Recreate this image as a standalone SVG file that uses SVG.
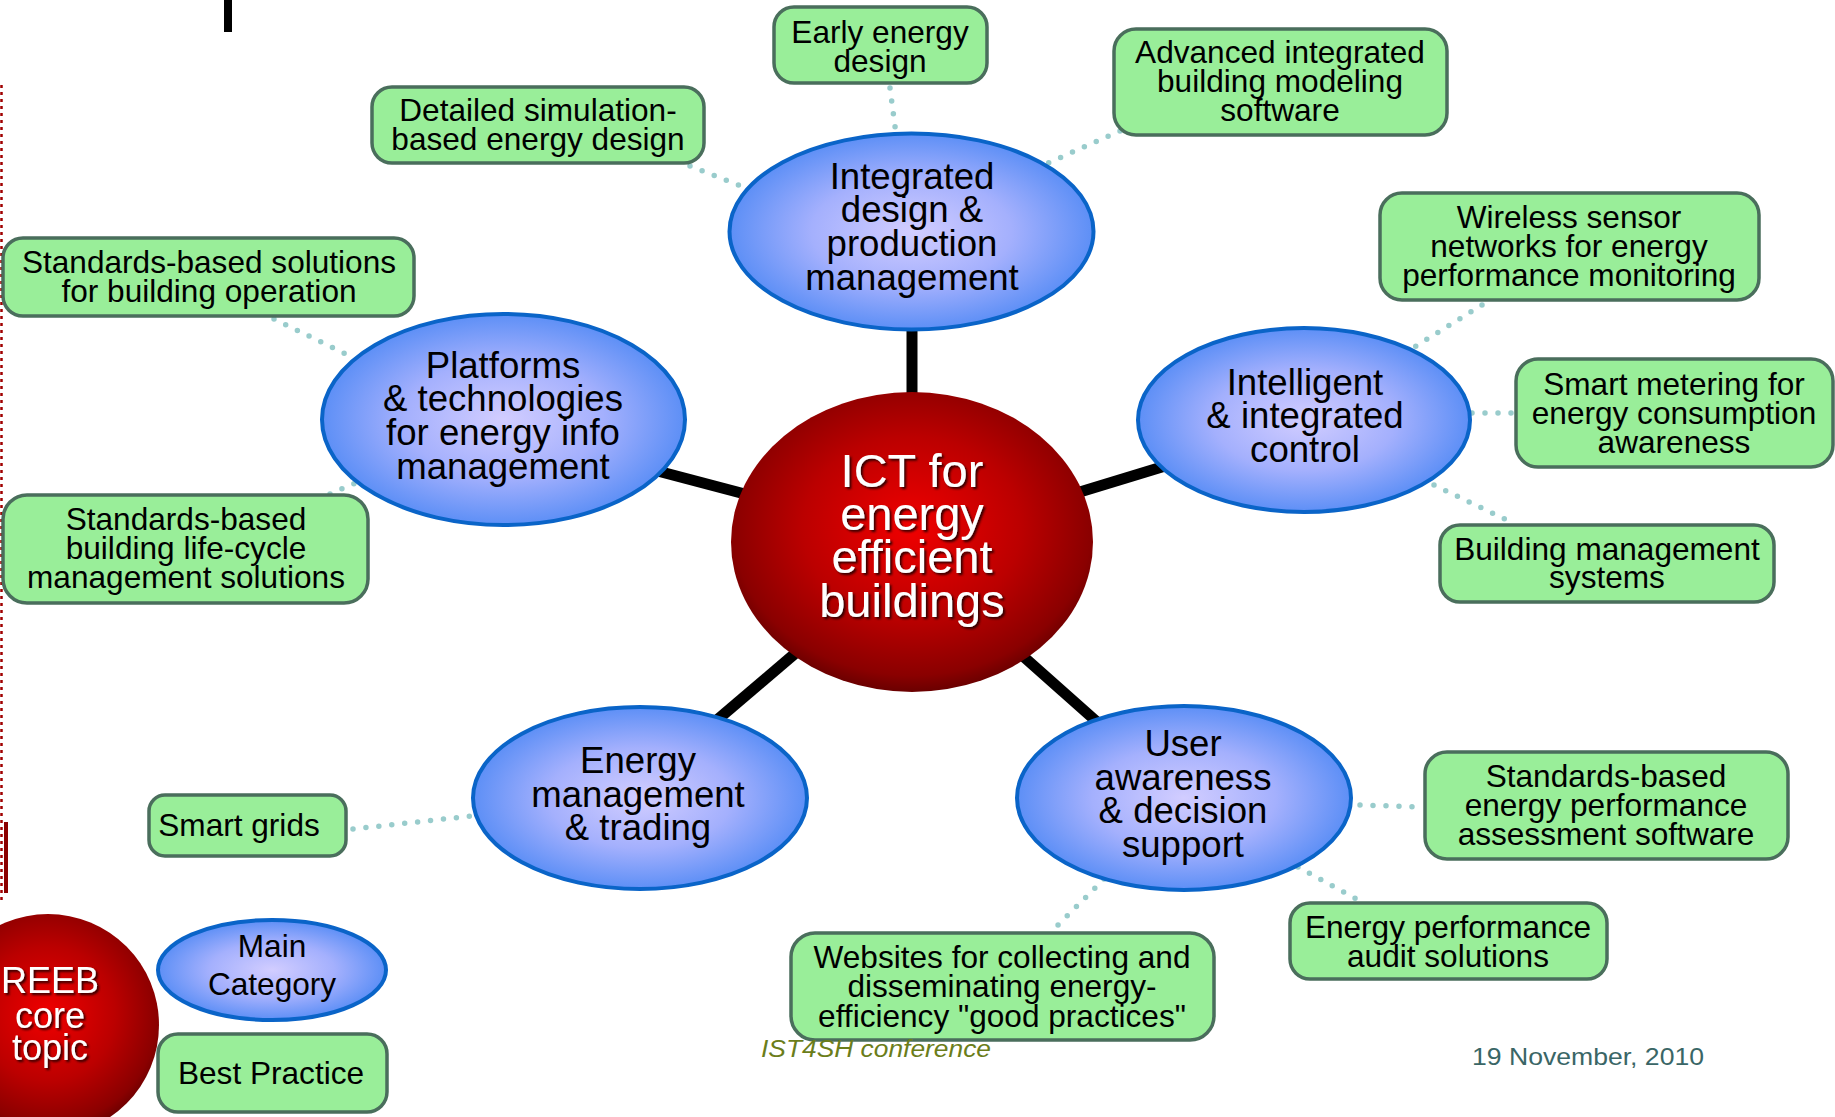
<svg xmlns="http://www.w3.org/2000/svg" width="1835" height="1117" viewBox="0 0 1835 1117">
<defs>
<radialGradient id="blueGrad" cx="50%" cy="50%" r="50%">
<stop offset="0" stop-color="#d2cdff"/>
<stop offset="0.55" stop-color="#a4b0fd"/>
<stop offset="1" stop-color="#5d8ff6"/>
</radialGradient>
<radialGradient id="redGrad" cx="50%" cy="45%" r="55%">
<stop offset="0" stop-color="#f00000"/>
<stop offset="0.55" stop-color="#bb0000"/>
<stop offset="0.9" stop-color="#8a0000"/>
<stop offset="1" stop-color="#6a0000"/>
</radialGradient>
<filter id="shadow" x="-20%" y="-20%" width="140%" height="140%">
<feDropShadow dx="2" dy="2" stdDeviation="1" flood-color="#200000" flood-opacity="0.9"/>
</filter>
</defs>
<style>
text{font-family:"Liberation Sans",Arial,Helvetica,sans-serif;text-anchor:middle;fill:#000}
.gb{fill:#99ee99;stroke:#4a6e5c;stroke-width:3.5}
.gt{font-size:31.6px}
.be{fill:url(#blueGrad);stroke:#0a64c8;stroke-width:4}
.bt{font-size:36.6px}
.ct{font-size:47px;fill:#fff;filter:url(#shadow)}
.rt{font-size:36px;fill:#fff;filter:url(#shadow)}
.dot{fill:none;stroke:#99cccc;stroke-width:5.5;stroke-linecap:round;stroke-dasharray:0 13}
.spoke{stroke:#000;stroke-width:11}
</style>
<rect width="1835" height="1117" fill="#fff"/>

<!-- decorations -->
<rect x="224" y="0" width="8" height="32" fill="#000"/>
<line x1="1.5" y1="85" x2="1.5" y2="900" stroke="#a00000" stroke-width="2.5" stroke-dasharray="3 4"/>
<rect x="4" y="822" width="4" height="71" fill="#8b0000"/>

<g id="connectors">
<line class="spoke" x1="912" y1="320" x2="912" y2="400"/>
<line class="spoke" x1="650" y1="469" x2="760" y2="498"/>
<line class="spoke" x1="1070" y1="495" x2="1175" y2="463"/>
<line class="spoke" x1="710" y1="726" x2="805" y2="645"/>
<line class="spoke" x1="1015" y1="649" x2="1105" y2="729"/>
<line class="dot" x1="890" y1="88" x2="896" y2="134"/>
<line class="dot" x1="1120" y1="131" x2="1048" y2="163"/>
<line class="dot" x1="690" y1="166" x2="746" y2="188"/>
<line class="dot" x1="274" y1="319" x2="354" y2="358"/>
<line class="dot" x1="330" y1="494" x2="360" y2="481"/>
<line class="dot" x1="1482" y1="305" x2="1408" y2="351"/>
<line class="dot" x1="1472" y1="413" x2="1512" y2="413"/>
<line class="dot" x1="1434" y1="485" x2="1515" y2="524"/>
<line class="dot" x1="353" y1="829" x2="472" y2="816"/>
<line class="dot" x1="1360" y1="805" x2="1422" y2="807"/>
<line class="dot" x1="1298" y1="867" x2="1362" y2="902"/>
<line class="dot" x1="1104" y1="879" x2="1052" y2="931"/>
</g>

<g id="center">
<ellipse cx="912" cy="542" rx="181" ry="150" fill="url(#redGrad)"/>
<text class="ct" x="912" y="487">ICT for</text>
<text class="ct" x="912" y="530">energy</text>
<text class="ct" x="912" y="573">efficient</text>
<text class="ct" x="912" y="617">buildings</text>
</g>

<g id="cat-integrated">
<ellipse class="be" cx="911.5" cy="231.5" rx="182" ry="98"/>
<text class="bt" x="912" y="189">Integrated</text>
<text class="bt" x="912" y="222">design &amp;</text>
<text class="bt" x="912" y="256">production</text>
<text class="bt" x="912" y="290">management</text>
</g>
<g id="cat-platforms">
<ellipse class="be" cx="503.5" cy="419.5" rx="181.5" ry="105.5"/>
<text class="bt" x="503" y="378">Platforms</text>
<text class="bt" x="503" y="411">&amp; technologies</text>
<text class="bt" x="503" y="445">for energy info</text>
<text class="bt" x="503" y="479">management</text>
</g>
<g id="cat-intelligent">
<ellipse class="be" cx="1304" cy="420" rx="166" ry="92"/>
<text class="bt" x="1305" y="395">Intelligent</text>
<text class="bt" x="1305" y="428">&amp; integrated</text>
<text class="bt" x="1305" y="462">control</text>
</g>
<g id="cat-energy">
<ellipse class="be" cx="640" cy="798" rx="167" ry="91"/>
<text class="bt" x="638" y="773">Energy</text>
<text class="bt" x="638" y="807">management</text>
<text class="bt" x="638" y="840">&amp; trading</text>
</g>
<g id="cat-user">
<ellipse class="be" cx="1184" cy="798" rx="167" ry="92"/>
<text class="bt" x="1183" y="756">User</text>
<text class="bt" x="1183" y="790">awareness</text>
<text class="bt" x="1183" y="823">&amp; decision</text>
<text class="bt" x="1183" y="857">support</text>
</g>

<g id="bp-early">
<rect class="gb" x="774" y="7" width="213" height="76" rx="20"/>
<text class="gt" x="880" y="43">Early energy</text>
<text class="gt" x="880" y="72">design</text>
</g>
<g id="bp-advanced">
<rect class="gb" x="1114" y="29" width="333" height="106" rx="22"/>
<text class="gt" x="1280" y="63">Advanced integrated</text>
<text class="gt" x="1280" y="92">building modeling</text>
<text class="gt" x="1280" y="121">software</text>
</g>
<g id="bp-detailed">
<rect class="gb" x="372" y="87" width="332" height="76" rx="20"/>
<text class="gt" x="538" y="121">Detailed simulation-</text>
<text class="gt" x="538" y="150">based energy design</text>
</g>
<g id="bp-operation">
<rect class="gb" x="3" y="238" width="411" height="78" rx="20"/>
<text class="gt" x="209" y="273">Standards-based solutions</text>
<text class="gt" x="209" y="302">for building operation</text>
</g>
<g id="bp-lifecycle">
<rect class="gb" x="3" y="495" width="365" height="108" rx="24"/>
<text class="gt" x="186" y="530">Standards-based</text>
<text class="gt" x="186" y="559">building life-cycle</text>
<text class="gt" x="186" y="588">management solutions</text>
</g>
<g id="bp-wireless">
<rect class="gb" x="1380" y="193" width="379" height="107" rx="22"/>
<text class="gt" x="1569" y="228">Wireless sensor</text>
<text class="gt" x="1569" y="257">networks for energy</text>
<text class="gt" x="1569" y="286">performance monitoring</text>
</g>
<g id="bp-metering">
<rect class="gb" x="1516" y="359" width="317" height="108" rx="22"/>
<text class="gt" x="1674" y="395">Smart metering for</text>
<text class="gt" x="1674" y="424">energy consumption</text>
<text class="gt" x="1674" y="453">awareness</text>
</g>
<g id="bp-bms">
<rect class="gb" x="1440" y="525" width="334" height="77" rx="20"/>
<text class="gt" x="1607" y="560">Building management</text>
<text class="gt" x="1607" y="588">systems</text>
</g>
<g id="bp-assessment">
<rect class="gb" x="1425" y="752" width="363" height="107" rx="22"/>
<text class="gt" x="1606" y="787">Standards-based</text>
<text class="gt" x="1606" y="816">energy performance</text>
<text class="gt" x="1606" y="845">assessment software</text>
</g>
<g id="bp-audit">
<rect class="gb" x="1290" y="903" width="317" height="76" rx="20"/>
<text class="gt" x="1448" y="938">Energy performance</text>
<text class="gt" x="1448" y="967">audit solutions</text>
</g>
<g id="bp-websites">
<rect class="gb" x="791" y="933" width="423" height="107" rx="24"/>
<text class="gt" x="1002" y="968">Websites for collecting and</text>
<text class="gt" x="1002" y="997">disseminating energy-</text>
<text class="gt" x="1002" y="1027">efficiency "good practices"</text>
</g>
<g id="bp-smartgrids">
<rect class="gb" x="149" y="795" width="197" height="61" rx="16"/>
<text class="gt" x="239" y="836">Smart grids</text>
</g>

<g id="legend-core">
<circle cx="48" cy="1025" r="111" fill="url(#redGrad)"/>
<text class="rt" x="50" y="993">REEB</text>
<text class="rt" x="50" y="1028">core</text>
<text class="rt" x="50" y="1060">topic</text>
</g>
<g id="legend-main">
<ellipse class="be" cx="272" cy="970" rx="114" ry="50"/>
<text class="gt" x="272" y="957">Main</text>
<text class="gt" x="272" y="995">Category</text>
</g>
<g id="legend-bp">
<rect class="gb" x="158" y="1034" width="229" height="78" rx="20"/>
<text class="gt" x="271" y="1084">Best Practice</text>
</g>

<text x="761" y="1057" style="text-anchor:start;font-style:italic;font-size:23px;fill:#6b7d1a" textLength="230" lengthAdjust="spacingAndGlyphs">IST4SH conference</text>
<text x="1472" y="1065" style="text-anchor:start;font-size:24px;fill:#3a6666" textLength="232" lengthAdjust="spacingAndGlyphs">19 November, 2010</text>
</svg>
